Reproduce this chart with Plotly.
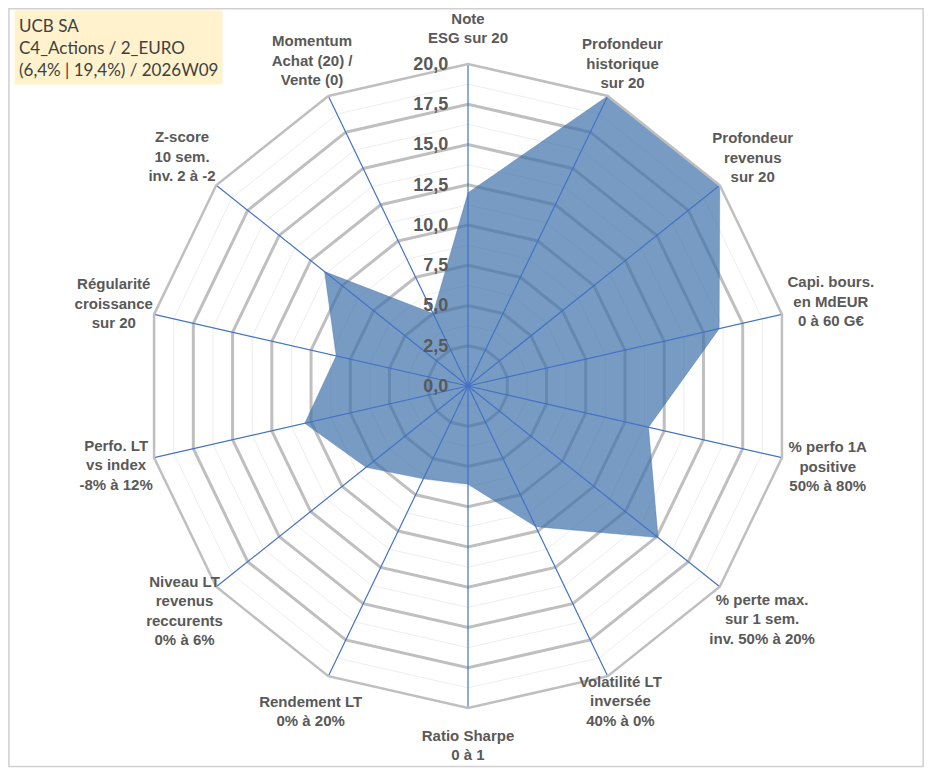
import plotly.graph_objects as go

# axis labels, clockwise from top
categories = [
    "Note<br>ESG sur 20",
    "Profondeur<br>historique<br>sur 20",
    "Profondeur<br>revenus<br>sur 20",
    "Capi. bours.<br>en MdEUR<br>0 à 60 G€",
    "% perfo 1A<br>positive<br>50% à 80%",
    "% perte max.<br>sur 1 sem.<br>inv. 50% à 20%",
    "Volatilité LT<br>inversée<br>40% à 0%",
    "Ratio Sharpe<br>0 à 1",
    "Rendement LT<br>0% à 20%",
    "Niveau LT<br>revenus<br>reccurents<br>0% à 6%",
    "Perfo. LT<br>vs index<br>-8% à 12%",
    "Régularité<br>croissance<br>sur 20",
    "Z-score<br>10 sem.<br>inv. 2 à -2",
    "Momentum<br>Achat (20) /<br>Vente (0)",
]
scores = [12.0, 20.0, 20.0, 16.0, 11.5, 15.1, 9.7, 6.1, 6.4, 8.1, 10.4, 8.4, 11.4, 5.0]

radial_ticks = [0, 2.5, 5, 7.5, 10, 12.5, 15, 17.5, 20]
minor_rings = [1.25, 3.75, 6.25, 8.75, 11.25, 13.75, 16.25, 18.75]

# where each category label sits (radius, same units as the scores)
label_radius = [22.2, 22.2, 22.7, 23.2, 23.0, 23.45, 21.9, 22.5, 22.6, 22.6, 22.5, 22.65, 22.8, 22.4]

title_lines = ["UCB SA", "C4_Actions / 2_EURO", "(6,4% | 19,4%) / 2026W09"]

closed = categories + [categories[0]]

fig = go.Figure()

# faint minor rings
for r in minor_rings:
    fig.add_trace(go.Scatterpolar(
        r=[r] * len(closed), theta=closed, mode='lines',
        line=dict(color='#EDEDED', width=1),
        hoverinfo='skip', showlegend=False))

# the score polygon
fig.add_trace(go.Scatterpolar(
    r=scores + [scores[0]], theta=closed,
    mode='lines', fill='toself',
    fillcolor='rgba(62,112,170,0.70)',
    line=dict(color='rgba(62,112,170,0.70)', width=0.5),
    name='UCB SA', showlegend=False))

# blue spokes drawn over the fill
spoke_r, spoke_t = [], []
for c in categories:
    spoke_r += [0, 20, None]
    spoke_t += [c, c, None]
fig.add_trace(go.Scatterpolar(
    r=spoke_r, theta=spoke_t, mode='lines',
    line=dict(color='#4472C4', width=1.2),
    hoverinfo='skip', showlegend=False, connectgaps=False))

# centred category labels on a larger, invisible polar sharing the centre
fig.add_trace(go.Scatterpolar(
    r=label_radius, theta=categories, mode='text',
    text=categories, textposition='middle center',
    textfont=dict(size=15, color='#595959', family='Liberation Sans, Arial, sans-serif',
                  weight='bold'),
    cliponaxis=False, hoverinfo='skip', showlegend=False, subplot='polar2'))

hidden_axis = dict(showgrid=False, showline=False, showticklabels=False, ticks='')

fig.update_layout(
    width=917, height=760,
    margin=dict(l=0, r=0, t=0, b=0),
    paper_bgcolor='white',
    separators=', ',
    font=dict(family='Liberation Sans, Arial, sans-serif', color='#595959'),
    polar=dict(
        domain=dict(x=[0.1505, 0.8528], y=[0.0789, 0.9263]),
        bgcolor='white',
        gridshape='linear',
        angularaxis=dict(
            rotation=90, direction='clockwise',
            showgrid=False, showline=True, linecolor='#BFBFBF', linewidth=2.5,
            ticks='', showticklabels=False,
        ),
        radialaxis=dict(
            range=[0, 20], tickvals=radial_ticks, tickformat='.1f',
            angle=90, side='counterclockwise', tickangle=90,
            showline=False,
            ticks='outside', ticklen=13, tickcolor='rgba(0,0,0,0)',
            gridcolor='#BFBFBF', gridwidth=2.5,
            layer='above traces',
            tickfont=dict(size=18, color='#595959', weight='bold'),
        ),
    ),
    polar2=dict(
        domain=dict(x=[0.0905, 0.9128], y=[0.0066, 0.9987]),
        bgcolor='rgba(0,0,0,0)',
        gridshape='linear',
        angularaxis=dict(rotation=90, direction='clockwise', **hidden_axis),
        radialaxis=dict(range=[0, 23.5], **hidden_axis),
    ),
    annotations=[dict(
        x=0.006, y=0.997, xref='paper', yref='paper',
        xanchor='left', yanchor='top', align='left',
        text='<br>'.join(title_lines), showarrow=False,
        bgcolor='#FFF2CC', borderpad=4,
        font=dict(family='Lato, sans-serif', size=17, color='#404040'),
    )],
    shapes=[dict(
        type='rect', xref='paper', yref='paper',
        x0=0.001, y0=0.002, x1=0.998, y1=0.999,
        line=dict(color='#D0D0D0', width=1.5),
    )],
)

fig.write_html("out.html")
